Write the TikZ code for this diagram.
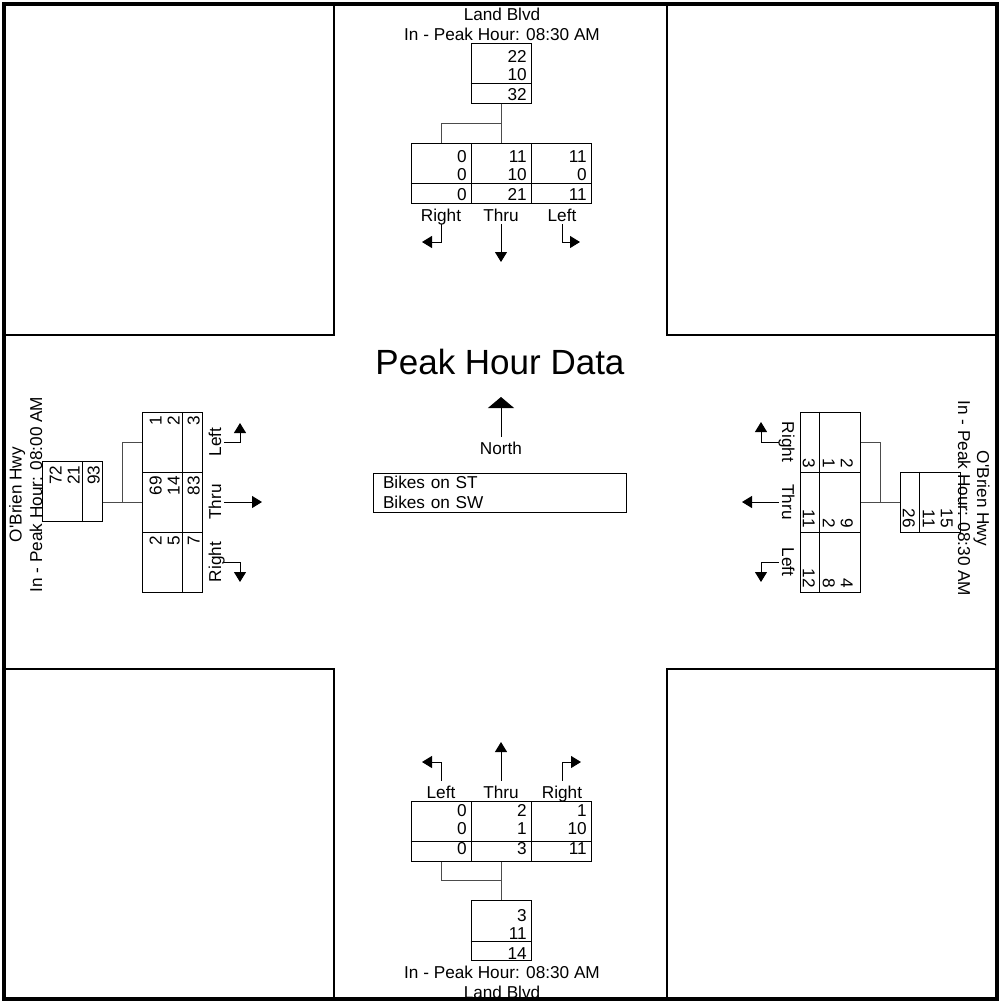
\documentclass[tikz,border=0pt]{standalone}
\usepackage{fontspec}
\setmainfont{Liberation Sans}
\usetikzlibrary{arrows.meta,calc}

\begin{document}
\begin{tikzpicture}[x=0.5pt, y=-0.5pt,
    font=\fontsize{8.6}{9}\selectfont,
    box/.style={draw, line width=0.5pt, inner sep=0pt, minimum width=30pt, minimum height=30pt},
    vals/.style={align=right, inner xsep=2.2pt, inner ysep=1.2pt, anchor=south east},
    mlbl/.style={inner sep=0pt, text height=8.5pt, text depth=1.5pt, anchor=base},
    street/.style={inner sep=0pt, anchor=base},
    turn/.style={line width=0.5pt, -{Triangle[width=6pt,length=5pt]}},
    link/.style={line width=0.5pt, black!70},
    quad/.style={line width=0.6pt}]
    \useasboundingbox (0,0) rectangle (999,1002);

    % Corner blocks
    \draw[quad] (4,335) -| (334,4);
    \draw[quad] (667,4) |- (997,335);
    \draw[quad] (4,669) -| (334,999);
    \draw[quad] (997,669) -| (667,999);

    % North approach (Land Blvd)
    \node[street] (stN) at (502,20.7) {Land Blvd};
    \node[street] (hrN) at (502,40.7) {In - Peak Hour: 08:30 AM};
    \node[box] (inN) at (501,73) {};
    \node[vals] (vN) at (inN.south east) {22\\10\\[1pt]32};
    \node[box] (mNR) at (441,173) {};
    \node[box] (mNT) at (501,173) {};
    \node[box] (mNL) at (561,173) {};
    \node[vals] (vNR) at (mNR.south east) {0\\0\\[1pt]0};
    \node[vals] (vNT) at (mNT.south east) {11\\10\\[1pt]21};
    \node[vals] (vNL) at (mNL.south east) {11\\0\\[1pt]11};
    \coordinate (kN) at ($(inN.south)!.5!(mNT.north)$);
    \draw[link] (inN.south) -- (mNT.north);
    \draw[link] (mNR.north) |- (kN);
    \node[mlbl] (lNR) at (441,221) {Right};
    \node[mlbl] (lNT) at (501,221) {Thru};
    \node[mlbl] (lNL) at (562,221) {Left};
    \coordinate (aNR) at (422,242);
    \coordinate (aNT) at (501,262);
    \coordinate (aNL) at (580,242);
    \draw[turn] (lNR.south) |- (aNR);
    \draw[turn] (lNT.south) -- (aNT);
    \draw[turn] (lNL.south) |- (aNL);

    % West approach (O'Brien Hwy)
    \node[street, rotate=90] (stW) at (21.7,494.5) {O\textquotesingle Brien Hwy};
    \node[street, rotate=90] (hrW) at (42,494.5) {In - Peak Hour: 08:00 AM};
    \node[box, rotate=90] (inW) at (72,491.5) {};
    \node[vals, rotate=90] (vW) at (inW.south east) {72\\21\\[1pt]93};
    \node[box, rotate=90] (mWL) at (172,442) {};
    \node[box, rotate=90] (mWT) at (172,502) {};
    \node[box, rotate=90] (mWR) at (172,562) {};
    \node[vals, rotate=90] (vWL) at (mWL.south east) {1\\2\\[1pt]3};
    \node[vals, rotate=90] (vWT) at (mWT.south east) {69\\14\\[1pt]83};
    \node[vals, rotate=90] (vWR) at (mWR.south east) {2\\5\\[1pt]7};
    \coordinate (jW) at (inW.south |- mWT.north);
    \coordinate (kW) at ($(jW)!.5!(mWT.north)$);
    \draw[link] (jW) -- (mWT.north);
    \draw[link] (mWL.north) -| (kW);
    \node[mlbl, rotate=90] (lWL) at (221,442) {Left};
    \node[mlbl, rotate=90] (lWT) at (221,502) {Thru};
    \node[mlbl, rotate=90] (lWR) at (221,562) {Right};
    \coordinate (aWL) at (240,423);
    \coordinate (aWT) at (262,502);
    \coordinate (aWR) at (240,582);
    \draw[turn] (lWL.south) -| (aWL);
    \draw[turn] (lWT.south) -- (aWT);
    \draw[turn] (lWR.south) -| (aWR);

    % East approach (O'Brien Hwy)
    \node[street, rotate=-90] (stE) at (977,498.5) {O\textquotesingle Brien Hwy};
    \node[street, rotate=-90] (hrE) at (958,498.5) {In - Peak Hour: 08:30 AM};
    \node[box, rotate=-90] (inE) at (930.5,502) {};
    \node[vals, rotate=-90] (vE) at (inE.south east) {15\\11\\[1pt]26};
    \node[box, rotate=-90] (mER) at (830.5,442) {};
    \node[box, rotate=-90] (mET) at (830.5,502) {};
    \node[box, rotate=-90] (mEL) at (830.5,562) {};
    \node[vals, rotate=-90] (vER) at (mER.south east) {2\\1\\[1pt]3};
    \node[vals, rotate=-90] (vET) at (mET.south east) {9\\2\\[1pt]11};
    \node[vals, rotate=-90] (vEL) at (mEL.south east) {4\\8\\[1pt]12};
    \coordinate (kE) at ($(inE.south)!.5!(mET.north)$);
    \draw[link] (inE.south) -- (mET.north);
    \draw[link] (mER.north) -| (kE);
    \node[mlbl, rotate=-90] (lER) at (782,442) {Right};
    \node[mlbl, rotate=-90] (lET) at (782,502) {Thru};
    \node[mlbl, rotate=-90] (lEL) at (782,562) {Left};
    \coordinate (aER) at (761,422);
    \coordinate (aET) at (742,502);
    \coordinate (aEL) at (761,582);
    \draw[turn] (lER.south) -| (aER);
    \draw[turn] (lET.south) -- (aET);
    \draw[turn] (lEL.south) -| (aEL);

    % South approach (Land Blvd)
    \node[mlbl] (lSL) at (441,798) {Left};
    \node[mlbl] (lST) at (501,798) {Thru};
    \node[mlbl] (lSR) at (562,798) {Right};
    \coordinate (aSL) at (422,762);
    \coordinate (aST) at (501,742);
    \coordinate (aSR) at (581,762);
    \draw[turn] (lSL.north) |- (aSL);
    \draw[turn] (lST.north) -- (aST);
    \draw[turn] (lSR.north) |- (aSR);
    \node[box] (mSL) at (441,831) {};
    \node[box] (mST) at (501,831) {};
    \node[box] (mSR) at (561,831) {};
    \node[vals, inner ysep=3.3pt] (vSL) at (mSL.south east) {0\\0\\[1pt]0};
    \node[vals, inner ysep=3.3pt] (vST) at (mST.south east) {2\\1\\[1pt]3};
    \node[vals, inner ysep=3.3pt] (vSR) at (mSR.south east) {1\\10\\[1pt]11};
    \node[box] (inS) at (501,930.5) {};
    \node[vals, inner ysep=0.6pt] (vS) at (inS.south east) {3\\11\\[1pt]14};
    \coordinate (kS) at ($(mST.south)!.5!(inS.north)$);
    \draw[link] (mST.south) -- (inS.north);
    \draw[link] (mSL.south) |- (kS);
    \node[street] (hrS) at (502,978) {In - Peak Hour: 08:30 AM};
    \node[street] (stS) at (502,998) {Land Blvd};

    % Total rows
    \foreach \b in {inN,mNR,mNT,mNL,inW,mWL,mWT,mWR,inE,mER,mET,mEL,mSL,mST,mSR,inS}
        \draw[line width=0.5pt] ($(\b.north west)!.68!(\b.south west)$) -- ($(\b.north east)!.68!(\b.south east)$);

    % Centre
    \node[font=\fontsize{17.5}{20}\selectfont] (title) at (500,362) {Peak Hour Data};
    \node[mlbl] (north) at (501,454) {North};
    \coordinate (aNo) at (501,397);
    \draw[link, -{Triangle[width=13pt,length=5.5pt]}, black] (north.north) -- (aNo);
    \node[draw, line width=0.5pt, minimum width=126.5pt, minimum height=19.5pt, inner xsep=5pt, inner ysep=0pt,
        text width=116.5pt, align=left, font=\fontsize{8.6}{10}\selectfont] (bikes) at (499.5,492.5) {Bikes on ST\\Bikes on SW};

    % Frame
    \draw[line width=2pt] (4,4) rectangle (997,999);
\end{tikzpicture}
\end{document}
